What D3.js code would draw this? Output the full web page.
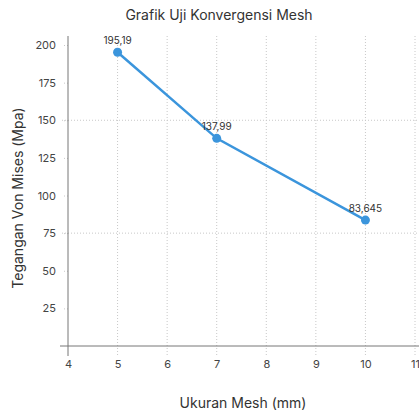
<!DOCTYPE html>
<html>
<head>
<meta charset="utf-8">
<script src="https://cdn.jsdelivr.net/npm/d3@7"></script>
<style>
  body { margin: 0; background: #fff; }
  svg { display: block; font-family: "Inter", "Lato", sans-serif; }
</style>
</head>
<body>
<script>
// mesh size (mm) vs von Mises stress (MPa)
const meshSize = [5, 7, 10]
const stress = [195.19, 137.99, 83.645]
const pointLabels = ["195,19", "137,99", "83,645"]
const xTicks = [4, 5, 6, 7, 8, 9, 10, 11]
const yTicks = [25, 50, 75, 100, 125, 150, 175, 200]
const yGrid = [75, 150]

const width = 419, height = 412
const mLeft = 68, mRight = 415, mTop = 36, mBottom = 346

const svg = d3.select("body").append("svg")
  .attr("width", width)
  .attr("height", height)

const x = d3.scaleLinear().domain([4, 11]).range([mLeft, mRight])
const y = d3.scaleLinear().domain([0, 200]).range([mBottom, 45])

const gridColor = "#c8c8c8"
const lineBlue = "#3b95dc"

// vertical dotted gridlines
svg.append("g").selectAll("line")
  .data(xTicks.slice(1))
  .join("line")
  .attr("x1", d => x(d)).attr("x2", d => x(d))
  .attr("y1", mTop).attr("y2", mBottom + 10)
  .attr("stroke", gridColor)
  .attr("stroke-dasharray", "1,2")

// horizontal dotted gridlines (only a couple)
svg.append("g").selectAll("line")
  .data(yGrid)
  .join("line")
  .attr("x1", mLeft - 6).attr("x2", width)
  .attr("y1", d => y(d)).attr("y2", d => y(d))
  .attr("stroke", gridColor)
  .attr("stroke-dasharray", "1,2")

// y axis
const yAxis = svg.append("g")
  .attr("transform", `translate(${mLeft},0)`)
  .call(d3.axisLeft(y).tickValues(yTicks).tickSize(6).tickPadding(6))
yAxis.select(".domain").remove()
yAxis.selectAll(".tick line").attr("stroke", gridColor).attr("stroke-dasharray", "1,2")
yAxis.selectAll(".tick text").attr("fill", "#444").style("font-size", "11px")
  .style("font-family", "Inter, Lato, sans-serif")
svg.append("line")
  .attr("x1", mLeft).attr("x2", mLeft)
  .attr("y1", mTop).attr("y2", mBottom + 10)
  .attr("stroke", "#777").attr("stroke-width", 1)

// x axis
const xAxis = svg.append("g")
  .attr("transform", `translate(0,${mBottom})`)
  .call(d3.axisBottom(x).tickValues(xTicks).tickFormat(d3.format("d")).tickSize(0).tickPadding(14))
xAxis.select(".domain").remove()
xAxis.selectAll(".tick text").attr("fill", "#444").style("font-size", "11px")
  .style("font-family", "Inter, Lato, sans-serif")
svg.append("line")
  .attr("x1", mLeft - 8).attr("x2", width)
  .attr("y1", mBottom).attr("y2", mBottom)
  .attr("stroke", "#777").attr("stroke-width", 1)

// data line
const pts = meshSize.map((d, i) => [d, stress[i]])
svg.append("path")
  .datum(pts)
  .attr("fill", "none")
  .attr("stroke", lineBlue)
  .attr("stroke-width", 2.5)
  .attr("d", d3.line().x(d => x(d[0])).y(d => y(d[1])))

svg.append("g").selectAll("circle")
  .data(pts)
  .join("circle")
  .attr("cx", d => x(d[0])).attr("cy", d => y(d[1]))
  .attr("r", 4.5)
  .attr("fill", lineBlue)

svg.append("g").selectAll("text")
  .data(pts)
  .join("text")
  .attr("x", d => x(d[0])).attr("y", d => y(d[1]) - 8)
  .attr("text-anchor", "middle")
  .attr("fill", "#333")
  .style("font-size", "10px")
  .text((d, i) => pointLabels[i])

// titles
svg.append("text")
  .attr("x", 219).attr("y", 20)
  .attr("text-anchor", "middle")
  .attr("fill", "#333")
  .style("font-size", "14px")
  .text("Grafik Uji Konvergensi Mesh")

svg.append("text")
  .attr("x", 243).attr("y", 408)
  .attr("text-anchor", "middle")
  .attr("fill", "#333")
  .style("font-size", "14px")
  .text("Ukuran Mesh (mm)")

svg.append("text")
  .attr("transform", "translate(23,198) rotate(-90)")
  .attr("text-anchor", "middle")
  .attr("fill", "#333")
  .style("font-size", "14px")
  .text("Tegangan Von Mises (Mpa)")
</script>
</body>
</html>
